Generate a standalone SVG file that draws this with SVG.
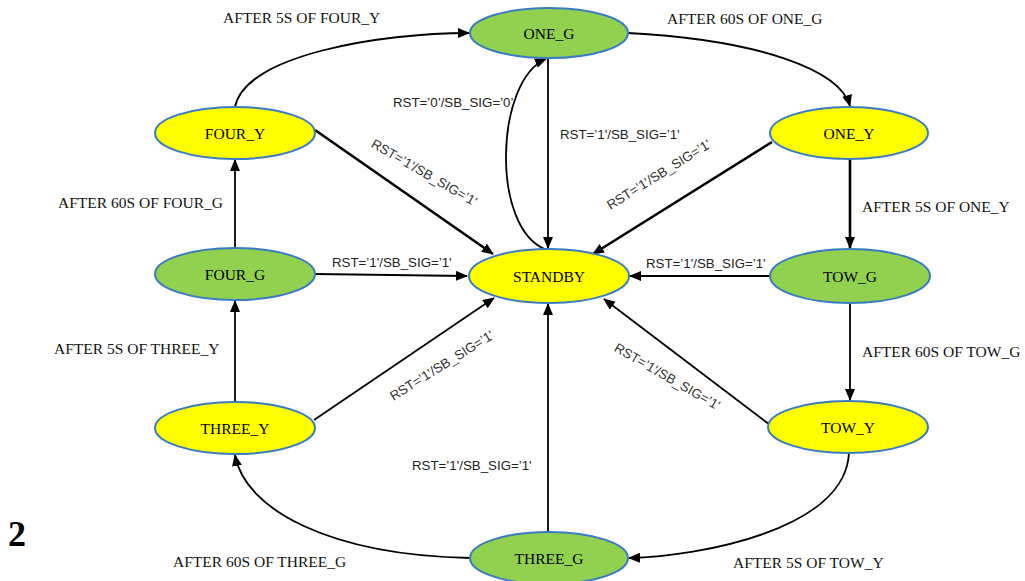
<svg xmlns="http://www.w3.org/2000/svg" width="1025" height="581" viewBox="0 0 1025 581">
<style>
.g{fill:#92D050;stroke:#3A7CBF;stroke-width:2}
.y{fill:#FFFF00;stroke:#3A7CBF;stroke-width:2}
.n{font-family:"Liberation Serif","Times New Roman",serif;font-size:15.5px;fill:#000;text-anchor:middle}
.a{font-family:"Liberation Serif","Times New Roman",serif;font-size:15.5px;fill:#111}
.r{font-family:"Liberation Sans",Arial,sans-serif;font-size:13.3px;fill:#222}
.rc{font-family:"Liberation Sans",Arial,sans-serif;font-size:13.3px;fill:#333;text-anchor:middle}
.c{fill:none;stroke:#000;stroke-width:1.8;marker-end:url(#ah)}
.t{fill:none;stroke:#000;stroke-width:2.6;marker-end:url(#ah)}
</style>
<defs>
<marker id="ah" markerUnits="userSpaceOnUse" markerWidth="12" markerHeight="10" refX="11" refY="5" orient="auto">
<path d="M0,0 L12,5 L0,10 z" fill="#000"/>
</marker>
</defs>
<rect width="1025" height="581" fill="#fff"/>
<g id="connectors">
<path class="c" d="M235,107 C245,55 380,33 469,33"/>
<path class="c" d="M628,33 C760,40 840,70 850,106"/>
<path class="t" d="M850,159 L850,248"/>
<path class="c" d="M850,303 L850,400"/>
<path class="c" d="M849,453 C845,530 700,556 629,558"/>
<path class="c" d="M470,558 C330,555 245,510 235,455"/>
<path class="c" d="M235,247 L235,160"/>
<path class="c" d="M235,402 L235,301"/>
<path class="t" d="M315,130 L493,254"/>
<path class="t" d="M772,142 L593,254"/>
<path class="c" d="M315,274 L467,276"/>
<path class="c" d="M770,276 L630,276"/>
<path class="c" d="M548,59 L548,248"/>
<path class="c" d="M547,250 C490,230 495,80 546,59"/>
<path class="c" d="M314,420 L494,298"/>
<path class="c" d="M770,425 L604,299"/>
<path class="c" d="M548,532 L548,304"/>
</g>
<g id="ONE_G"><ellipse class="g" cx="549" cy="33" rx="79" ry="25"/><text class="n" x="549" y="39">ONE_G</text></g>
<g id="FOUR_Y"><ellipse class="y" cx="235" cy="133" rx="80" ry="26"/><text class="n" x="235" y="139">FOUR_Y</text></g>
<g id="ONE_Y"><ellipse class="y" cx="849" cy="133" rx="79" ry="26"/><text class="n" x="849" y="139">ONE_Y</text></g>
<g id="FOUR_G"><ellipse class="g" cx="235" cy="274" rx="80" ry="26"/><text class="n" x="235" y="280">FOUR_G</text></g>
<g id="STANDBY"><ellipse class="y" cx="549" cy="276" rx="80" ry="27"/><text class="n" x="549" y="282">STANDBY</text></g>
<g id="TOW_G"><ellipse class="g" cx="850" cy="276" rx="80" ry="27"/><text class="n" x="850" y="282">TOW_G</text></g>
<g id="THREE_Y"><ellipse class="y" cx="235" cy="428" rx="80" ry="26"/><text class="n" x="235" y="434">THREE_Y</text></g>
<g id="TOW_Y"><ellipse class="y" cx="848" cy="427" rx="80" ry="26"/><text class="n" x="848" y="433">TOW_Y</text></g>
<g id="THREE_G"><ellipse class="g" cx="549" cy="558" rx="79" ry="26"/><text class="n" x="549" y="564">THREE_G</text></g>
<g id="labels">
<text class="a" x="223" y="23">AFTER 5S OF FOUR_Y</text>
<text class="a" x="667" y="24">AFTER 60S OF ONE_G</text>
<text class="a" x="58" y="208">AFTER 60S OF FOUR_G</text>
<text class="a" x="862" y="212">AFTER 5S OF ONE_Y</text>
<text class="a" x="54" y="354">AFTER 5S OF THREE_Y</text>
<text class="a" x="862" y="357">AFTER 60S OF TOW_G</text>
<text class="a" x="173" y="567">AFTER 60S OF THREE_G</text>
<text class="a" x="733" y="568">AFTER 5S OF TOW_Y</text>
<text x="8" y="546" style="font-family:'Liberation Serif','Times New Roman',serif;font-size:36px;font-weight:bold;fill:#000">2</text>
<text class="r" x="393" y="107">RST=’0’/SB_SIG=’0’</text>
<text class="r" x="560" y="139">RST=’1'/SB_SIG=’1'</text>
<text class="r" x="332" y="267">RST=’1'/SB_SIG=’1'</text>
<text class="r" x="646" y="268">RST=’1'/SB_SIG=’1'</text>
<text class="r" x="412" y="470">RST=’1'/SB_SIG=’1'</text>
<text class="rc" transform="translate(424,173) rotate(30)" x="0" y="4">RST=’1'/SB_SIG=’1'</text>
<text class="rc" transform="translate(659,175) rotate(-32)" x="0" y="4">RST=’1'/SB_SIG=’1'</text>
<text class="rc" transform="translate(442,366) rotate(-32)" x="0" y="4">RST=’1'/SB_SIG=’1'</text>
<text class="rc" transform="translate(667,377) rotate(30)" x="0" y="4">RST=’1'/SB_SIG=’1'</text>
</g>
</svg>
